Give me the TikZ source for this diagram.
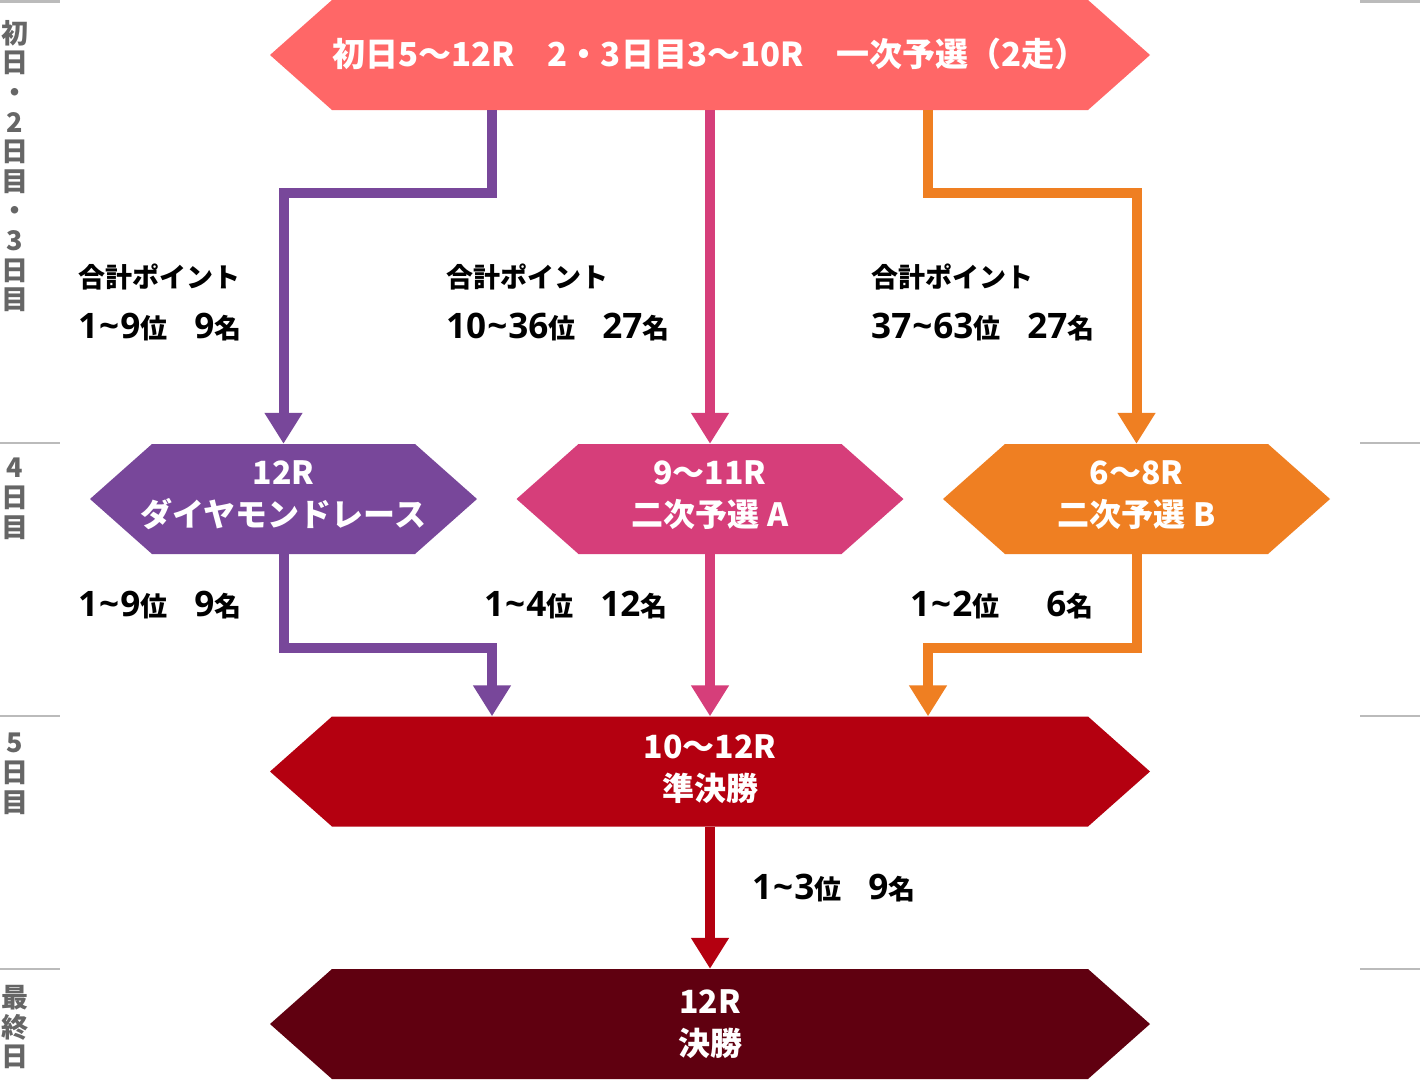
\documentclass[tikz,border=0pt]{standalone}
\usepackage{fontspec}
\setmainfont{Noto Sans CJK JP}
\newfontfamily\latnum{Open Sans}[Scale=1.3]
\newcommand\Nm[1]{{\latnum #1}}
\newcommand\tld{\kern1pt\char`\~\kern1pt}
\usetikzlibrary{arrows.meta}
\definecolor{cTop}{HTML}{FF6767}
\definecolor{cPur}{HTML}{78479A}
\definecolor{cPink}{HTML}{D63E7A}
\definecolor{cOra}{HTML}{EF7F22}
\definecolor{cRed}{HTML}{B40010}
\definecolor{cDark}{HTML}{600010}
\definecolor{cGrey}{HTML}{666666}
\definecolor{cSep}{HTML}{BBBBBB}
\tikzset{
  hexbox/.style={minimum height=110pt, inner sep=0pt},
  hextext/.style={inner sep=0pt, text=white, align=center,
    font=\bfseries\fontsize{32}{42}\selectfont},
  conn/.style={line width=10pt, line join=miter, -{Triangle[width=36pt,length=31pt]}},
  lbl/.style={anchor=west, inner sep=0pt, text=black, font=\bfseries\fontsize{27}{30}\selectfont},
  daylabel/.style={anchor=north, inner sep=0pt, text=cGrey, align=center,
    font=\bfseries\fontsize{27}{29.6}\selectfont},
  sepline/.style={draw=cSep, line width=2.5pt}
}
\newcommand\hexnode[7]{%
  \fill[#5] (#2-#4,#3) -- (#2-#4+62,#3-55) -- (#2+#4-62,#3-55) -- (#2+#4,#3)
    -- (#2+#4-62,#3+55) -- (#2-#4+62,#3+55) -- cycle;
  \node[hexbox] (#1) at (#2,#3) {};
  \node[hextext] (#1-t) at ([yshift=#7]#1.center) {#6};
}
\begin{document}
\begin{tikzpicture}[x=1pt,y=-1pt]
\useasboundingbox (0,0) rectangle (1420,1080);
\fill[white] (0,0) rectangle (1420,1080);
% separators
\foreach \yy in {1.25,443,716,969}{
  \draw[sepline] (0,\yy) -- (60,\yy);
  \draw[sepline] (1360,\yy) -- (1420,\yy);
}
% day labels
\node[daylabel] (d1) at (15,20) {初\\日\\・\\2\\日\\目\\・\\3\\日\\目};
\node[daylabel] (d2) at (15,458) {4\\日\\目};
\node[daylabel] (d3) at (15,733) {5\\日\\目};
\node[daylabel] (d4) at (15,985) {最\\終\\日};
% hexagons
\hexnode{top}{710}{55}{440}{cTop}{\fontsize{33}{42}\selectfont 初日5〜12R　2・3日目3〜10R　一次予選（2走）}{1pt}
\hexnode{dia}{283.5}{499}{193.5}{cPur}{12R\\ダイヤモンドレース}{4pt}
\hexnode{semA}{710}{499}{193.5}{cPink}{9〜11R\\二次予選 A}{4pt}
\hexnode{semB}{1136.5}{499}{193.5}{cOra}{6〜8R\\二次予選 B}{4pt}
\hexnode{semi}{710}{771.5}{440}{cRed}{10〜12R\\準決勝}{2pt}
\hexnode{final}{710}{1024}{440}{cDark}{12R\\決勝}{0pt}
% connectors
\draw[conn, cPur] ([xshift=-218pt]top.south) -- ++(0,83) -| (dia.north);
\draw[conn, cPink] (top.south) -- (semA.north);
\draw[conn, cOra] ([xshift=218pt]top.south) -- ++(0,83) -| (semB.north);
\draw[conn, cPur] (dia.south) -- ++(0,94) -| ([xshift=-218pt]semi.north);
\draw[conn, cPink] (semA.south) -- (semi.north);
\draw[conn, cOra] (semB.south) -- ++(0,94) -| ([xshift=218pt]semi.north);
\draw[conn, cRed] (semi.south) -- (final.north);
% labels
\node[lbl] (l1a) at (78,277) {合計ポイント};
\node[lbl] (l1b) at (78,327) {\Nm{1\tld 9}位　\Nm{9}名};
\node[lbl] (l2a) at (446,277) {合計ポイント};
\node[lbl] (l2b) at (446,327) {\Nm{10\tld 36}位　\Nm{27}名};
\node[lbl] (l3a) at (871,277) {合計ポイント};
\node[lbl] (l3b) at (871,327) {\Nm{37\tld 63}位　\Nm{27}名};
\node[lbl] (l4) at (78,605) {\Nm{1\tld 9}位　\Nm{9}名};
\node[lbl] (l5) at (484,605) {\Nm{1\tld 4}位　\Nm{12}名};
\node[lbl] (l6) at (910,605) {\Nm{1\tld 2}位　\Nm{\hphantom{1}6}名};
\node[lbl] (l7) at (752,888) {\Nm{1\tld 3}位　\Nm{9}名};
\end{tikzpicture}
\end{document}
